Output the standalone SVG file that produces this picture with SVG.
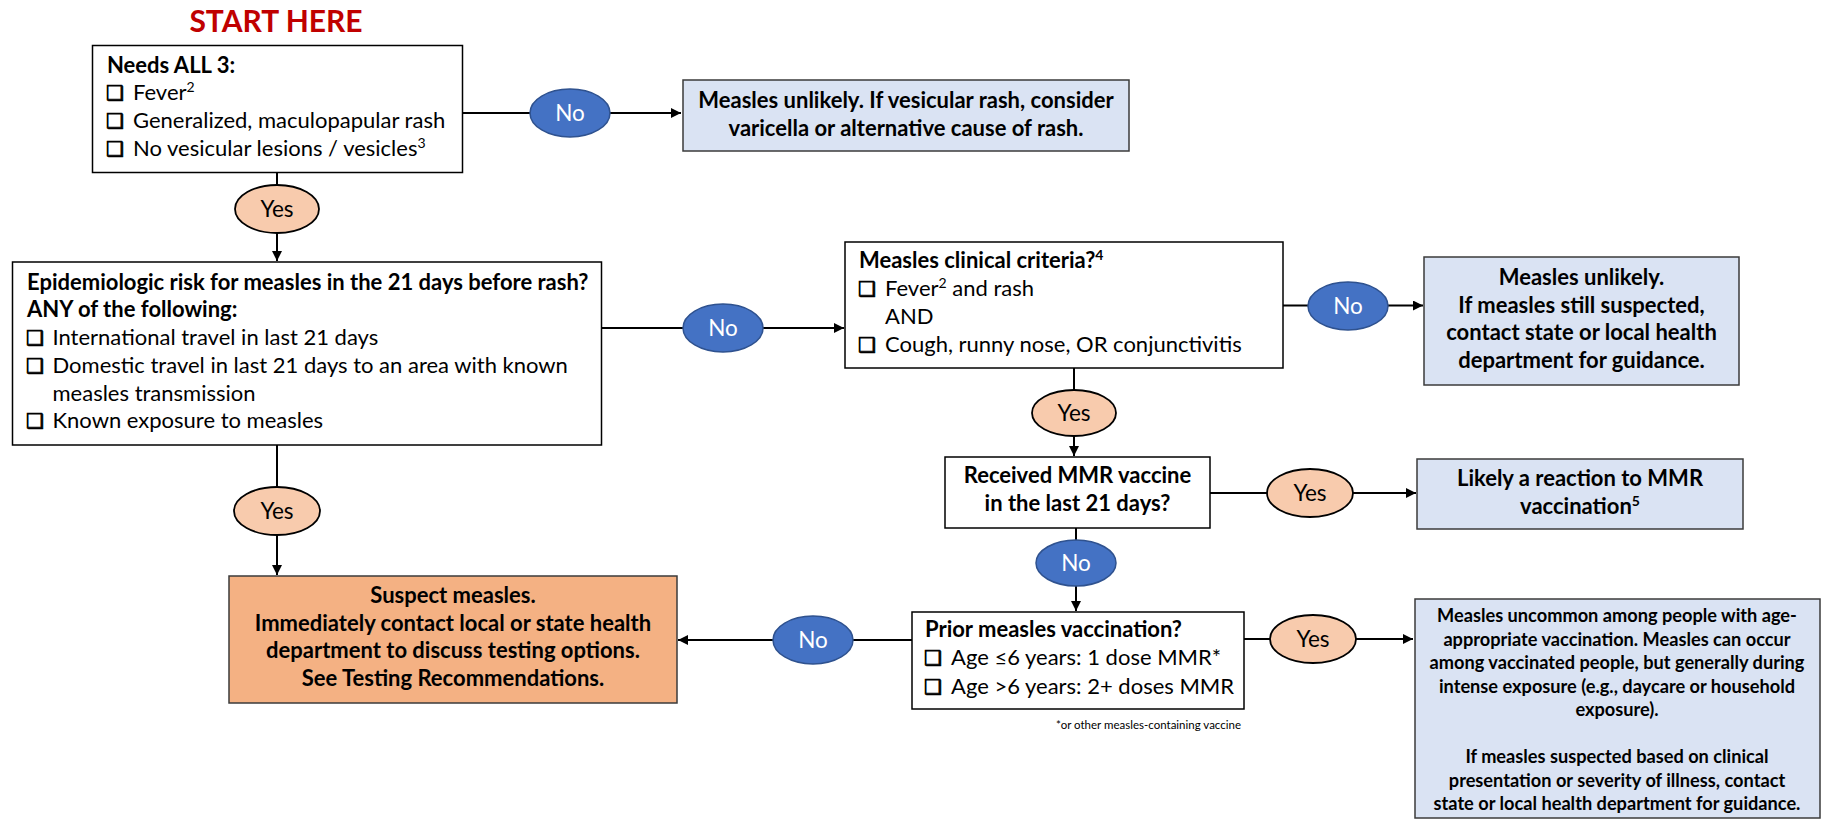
<svg xmlns="http://www.w3.org/2000/svg" width="1823" height="820" viewBox="0 0 1823 820">
<style>
.box{fill:#fff;stroke:#000;stroke-width:1.5}
.res{fill:#dae3f3;stroke:#3b3b3b;stroke-width:1.5}
.susp{fill:#f4b183;stroke:#3b3b3b;stroke-width:1.5}
.no{fill:#4472c4;stroke:#2f528f;stroke-width:1.5}
.yes{fill:#f8cbad;stroke:#000;stroke-width:1.8}
.conn{stroke:#000;stroke-width:2;fill:none}
text{font-family:Lato,"Liberation Sans",sans-serif;font-size:22px;fill:#000}
.b{font-weight:bold}
.c{text-anchor:middle}
.w{fill:#fff}
.lb{font-size:22.5px}
.cb{font-family:"DejaVu Sans",sans-serif;font-size:20px;stroke:#000;stroke-width:0.8}
.sm{font-size:18.2px}
.title{font-size:30px;font-weight:bold;fill:#c00000;text-anchor:middle}
.fn{font-size:11.5px;text-anchor:end}
</style>
<defs>
<marker id="arr" markerUnits="userSpaceOnUse" markerWidth="11" markerHeight="10" refX="10" refY="5" orient="auto">
<path d="M0,0 L10,5 L0,10 z" fill="#000"/>
</marker>
</defs>

<text class="title" x="276" y="32">START HERE</text>

<g id="connectors">
<path class="conn" d="M462.5 113 H681" marker-end="url(#arr)"/>
<path class="conn" d="M277 172.5 V261" marker-end="url(#arr)"/>
<path class="conn" d="M601.5 328 H844" marker-end="url(#arr)"/>
<path class="conn" d="M1283 305.5 H1423" marker-end="url(#arr)"/>
<path class="conn" d="M1074 368 V456" marker-end="url(#arr)"/>
<path class="conn" d="M1210 493 H1416" marker-end="url(#arr)"/>
<path class="conn" d="M1076 528 V611" marker-end="url(#arr)"/>
<path class="conn" d="M1244 639 H1413" marker-end="url(#arr)"/>
<path class="conn" d="M912 640 H678" marker-end="url(#arr)"/>
<path class="conn" d="M277 445 V575" marker-end="url(#arr)"/>
<g id="labels">
<ellipse class="no" cx="570" cy="113" rx="40" ry="24"/><text class="c w lb" x="570" y="121">No</text>
<ellipse class="yes" cx="277" cy="209" rx="42" ry="24"/><text class="c lb" x="277" y="217">Yes</text>
<ellipse class="no" cx="723" cy="328" rx="40" ry="24"/><text class="c w lb" x="723" y="336">No</text>
<ellipse class="no" cx="1348" cy="306" rx="40" ry="24"/><text class="c w lb" x="1348" y="314">No</text>
<ellipse class="yes" cx="1074" cy="413" rx="42" ry="23"/><text class="c lb" x="1074" y="421">Yes</text>
<ellipse class="yes" cx="1310" cy="493" rx="43" ry="24"/><text class="c lb" x="1310" y="501">Yes</text>
<ellipse class="no" cx="1076" cy="563" rx="40" ry="23"/><text class="c w lb" x="1076" y="571">No</text>
<ellipse class="yes" cx="1313" cy="639" rx="43" ry="24"/><text class="c lb" x="1313" y="647">Yes</text>
<ellipse class="no" cx="813" cy="640" rx="40" ry="24"/><text class="c w lb" x="813" y="648">No</text>
<ellipse class="yes" cx="277" cy="511" rx="43" ry="24"/><text class="c lb" x="277" y="519">Yes</text>
</g>
</g>

<g id="needs-all-3">
<rect class="box" x="92.5" y="45.5" width="370" height="127"/>
<text class="b" x="107" y="73">Needs ALL 3:</text>
<text class="cb" x="106" y="100">❑</text><text x="133" y="100">Fever<tspan dy="-8" font-size="14">2</tspan></text>
<text class="cb" x="106" y="128">❑</text><text x="133" y="128">Generalized, maculopapular rash</text>
<text class="cb" x="106" y="156">❑</text><text x="133" y="156">No vesicular lesions / vesicles<tspan dy="-8" font-size="14">3</tspan></text>
</g>

<g id="unlikely-varicella">
<rect class="res" x="683" y="80" width="446" height="71"/>
<text class="b c" x="906" y="108">Measles unlikely. If vesicular rash, consider</text>
<text class="b c" x="906" y="136">varicella or alternative cause of rash.</text>
</g>

<g id="epi-risk">
<rect class="box" x="12.5" y="262" width="589" height="183"/>
<text class="b" x="27" y="290">Epidemiologic risk for measles in the 21 days before rash?</text>
<text class="b" x="27" y="317">ANY of the following:</text>
<text class="cb" x="26" y="345">❑</text><text x="52.5" y="345">International travel in last 21 days</text>
<text class="cb" x="26" y="373">❑</text><text x="52.5" y="373">Domestic travel in last 21 days to an area with known</text>
<text x="52.5" y="401">measles transmission</text>
<text class="cb" x="26" y="428">❑</text><text x="52.5" y="428">Known exposure to measles</text>
</g>

<g id="clinical-criteria">
<rect class="box" x="845" y="242" width="438" height="126"/>
<text class="b" x="859" y="268">Measles clinical criteria?<tspan dy="-8" font-size="14">4</tspan></text>
<text class="cb" x="858" y="296">❑</text><text x="885" y="296">Fever<tspan dy="-8" font-size="14">2</tspan><tspan dy="8"> and rash</tspan></text>
<text x="885" y="324">AND</text>
<text class="cb" x="858" y="352">❑</text><text x="885" y="352">Cough, runny nose, OR conjunctivitis</text>
</g>

<g id="unlikely-contact">
<rect class="res" x="1424" y="257" width="315" height="128"/>
<text class="b c" x="1581.5" y="285">Measles unlikely.</text>
<text class="b c" x="1581.5" y="312.5">If measles still suspected,</text>
<text class="b c" x="1581.5" y="340">contact state or local health</text>
<text class="b c" x="1581.5" y="367.5">department for guidance.</text>
</g>

<g id="mmr-recent">
<rect class="box" x="945" y="457" width="265" height="71"/>
<text class="b c" x="1077.5" y="483">Received MMR vaccine</text>
<text class="b c" x="1077.5" y="511">in the last 21 days?</text>
</g>

<g id="mmr-reaction">
<rect class="res" x="1417" y="459" width="326" height="70"/>
<text class="b c" x="1580" y="486">Likely a reaction to MMR</text>
<text class="b c" x="1580" y="514">vaccination<tspan dy="-8" font-size="14">5</tspan></text>
</g>

<g id="prior-vaccination">
<rect class="box" x="912" y="612" width="332" height="97"/>
<text class="b" x="925" y="637">Prior measles vaccination?</text>
<text class="cb" x="924" y="665">❑</text><text x="951" y="665">Age ≤6 years: 1 dose MMR*</text>
<text class="cb" x="924" y="694">❑</text><text x="951" y="694">Age &gt;6 years: 2+ doses MMR</text>
<text class="fn" x="1241" y="729">*or other measles-containing vaccine</text>
</g>

<g id="uncommon-vaccinated">
<rect class="res" x="1415" y="599" width="405" height="219"/>
<text class="b c sm" x="1617" y="622">Measles uncommon among people with age-</text>
<text class="b c sm" x="1617" y="645.5">appropriate vaccination. Measles can occur</text>
<text class="b c sm" x="1617" y="669">among vaccinated people, but generally during</text>
<text class="b c sm" x="1617" y="692.5">intense exposure (e.g., daycare or household</text>
<text class="b c sm" x="1617" y="716">exposure).</text>
<text class="b c sm" x="1617" y="763">If measles suspected based on clinical</text>
<text class="b c sm" x="1617" y="786.5">presentation or severity of illness, contact</text>
<text class="b c sm" x="1617" y="810">state or local health department for guidance.</text>
</g>

<g id="suspect-measles">
<rect class="susp" x="229" y="576" width="448" height="127"/>
<text class="b c" x="453" y="603">Suspect measles.</text>
<text class="b c" x="453" y="631">Immediately contact local or state health</text>
<text class="b c" x="453" y="658">department to discuss testing options.</text>
<text class="b c" x="453" y="686">See Testing Recommendations.</text>
</g>
</svg>
